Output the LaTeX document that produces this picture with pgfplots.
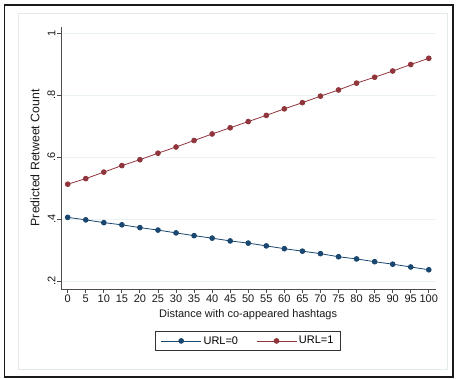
\documentclass[border=0pt]{standalone}
\usepackage{pgfplots}
\pgfplotsset{compat=1.18}
\usepackage{fontspec}
\setmainfont{Liberation Sans}
\definecolor{stnavy}{RGB}{26,71,111}
\definecolor{stmaroon}{RGB}{144,53,59}
\definecolor{stgrid}{RGB}{234,242,243}
\definecolor{stframe}{RGB}{226,234,236}
\begin{document}
\begin{tikzpicture}[x=1pt,y=1pt]
\useasboundingbox (0,0) rectangle (459,379);
\draw[black!90, line width=1.3pt] (4.5,2) rectangle (453,374);
\draw[stframe, line width=0.8pt] (18,10) rectangle (447,366);
\begin{axis}[
  at={(61pt,90pt)}, anchor=south west,
  scale only axis, width=375pt, height=262.3pt,
  xmin=-1.86, xmax=102, ymin=0.175, ymax=1.021,
  axis x line*=bottom, axis y line*=left,
  axis line style={draw=black!70, line width=0.9pt, -},
  tick style={draw=black!70, line width=0.9pt},
  major tick length=4pt, tick align=outside,
  xtick={0,5,...,100},
  ytick={0.2,0.4,0.6,0.8,1},
  yticklabels={.2,.4,.6,.8,1},
  /pgf/number format/assume math mode=true,
  ticklabel style={font=\fontsize{11}{13}\selectfont, text=black!90},
  xticklabel style={inner sep=1.5pt},
  yticklabel style={rotate=90, anchor=south, inner sep=1.5pt},
  ymajorgrids, grid style={stgrid, line width=0.9pt},
  xlabel={Distance with co-appeared hashtags},
  ylabel={Predicted Retweet Count},
  xlabel style={font=\fontsize{11}{13}\selectfont, text=black!90, at={(axis description cs:0.499,-0.099)}, anchor=center},
  ylabel style={font=\fontsize{12.3}{14}\selectfont, text=black!90, at={(axis description cs:-0.0693,0.5)}, anchor=center},
  legend columns=2,
  legend style={at={(0.499,-0.198)}, anchor=center, draw=black!80, line width=0.8pt,
    font=\fontsize{11}{13}\selectfont,
    /tikz/every even column/.append style={column sep=16pt},
    inner xsep=5pt, inner ysep=3pt},
  legend image code/.code={\draw[mark repeat=2,mark phase=2] plot coordinates {(0pt,0pt) (20pt,0pt) (40pt,0pt)};},
]
\addplot[stnavy, line width=0.8pt, mark=*, mark size=2.4pt, mark options={solid}] coordinates {
(0,0.406) (5,0.398) (10,0.389) (15,0.382) (20,0.373) (25,0.365) (30,0.356) (35,0.347) (40,0.339) (45,0.330)
(50,0.323) (55,0.314) (60,0.305) (65,0.297) (70,0.289) (75,0.279) (80,0.272) (85,0.263) (90,0.255) (95,0.246) (100,0.237)};
\addlegendentry{URL=0}
\addplot[stmaroon, line width=0.8pt, mark=*, mark size=2.4pt, mark options={solid}] coordinates {
(0,0.513) (5,0.531) (10,0.552) (15,0.573) (20,0.592) (25,0.613) (30,0.633) (35,0.654) (40,0.675) (45,0.695)
(50,0.715) (55,0.735) (60,0.756) (65,0.776) (70,0.797) (75,0.817) (80,0.839) (85,0.858) (90,0.878) (95,0.899) (100,0.919)};
\addlegendentry{URL=1}
\end{axis}
\end{tikzpicture}
\end{document}
